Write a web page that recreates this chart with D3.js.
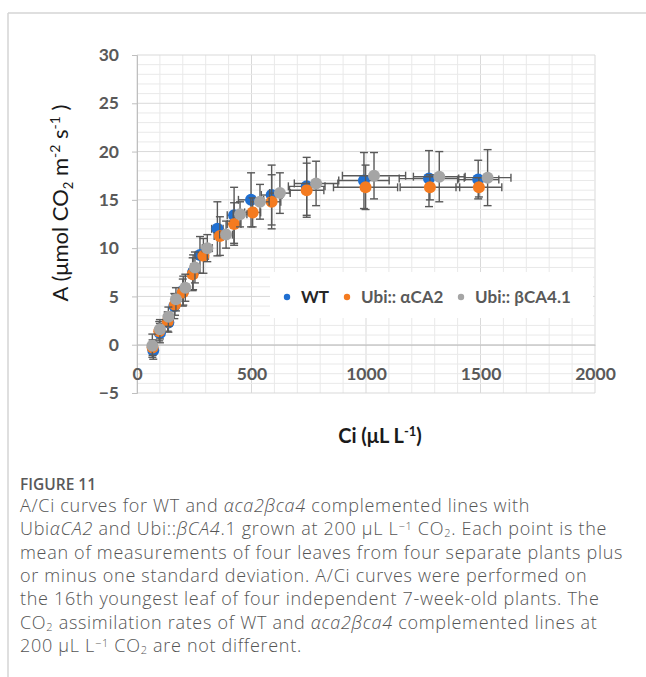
<!DOCTYPE html>
<html>
<head>
<meta charset="utf-8">
<script src="https://cdn.jsdelivr.net/npm/d3@7"></script>
<style>
  body { margin: 0; background: #fff; }
  svg { display: block; }
</style>
</head>
<body>
<svg id="chart"></svg>
<script>
// A/Ci data: mean Ci, mean A, and one SD on each
const series = ["WT", "Ubi:: αCA2", "Ubi:: βCA4.1"];
const colors = ["#1f6fd1", "#f47b20", "#a5a5a5"];

const wtCi = [71, 100, 137, 163, 202, 245, 275, 351, 424, 498, 588, 741, 991, 1275, 1490];
const wtA = [-0.6, 1.2, 2.3, 4.0, 5.6, 7.5, 9.3, 12.0, 13.4, 15.0, 15.5, 16.4, 17.0, 17.2, 17.1];
const wtASd = [0.9, 1.0, 1.0, 1.3, 1.5, 1.8, 1.9, 2.8, 2.9, 2.8, 3.1, 3.0, 2.9, 2.9, 2.0];
const wtCiSd = [8, 10, 12, 14, 16, 18, 20, 25, 30, 55, 45, 80, 110, 130, 90];

const aCi = [68, 97, 134, 166, 200, 243, 290, 362, 424, 505, 588, 741, 998, 1279, 1493];
const aA = [-0.3, 1.4, 2.4, 4.15, 5.4, 7.3, 9.2, 11.25, 12.5, 13.7, 14.8, 16.0, 16.3, 16.3, 16.3];
const aASd = [0.8, 1.0, 1.0, 1.1, 1.4, 1.7, 1.8, 2.0, 2.2, 1.5, 2.8, 2.8, 2.3, 1.3, 1.0];
const aCiSd = [8, 10, 12, 14, 16, 18, 22, 25, 30, 35, 40, 75, 140, 130, 100];

const bCi = [67, 100, 137, 170, 211, 253, 307, 389, 450, 537, 624, 782, 1035, 1320, 1531];
const bA = [-0.1, 1.6, 2.9, 4.7, 5.9, 8.0, 10.0, 11.4, 13.5, 14.8, 15.7, 16.7, 17.5, 17.4, 17.3];
const bASd = [1.2, 1.0, 1.0, 1.2, 1.4, 1.6, 1.4, 1.4, 1.3, 1.8, 2.1, 2.3, 2.4, 2.6, 2.9];
const bCiSd = [8, 10, 12, 14, 16, 18, 22, 28, 30, 40, 45, 95, 138, 113, 102];

const xTicks = [0, 500, 1000, 1500, 2000];
const yTicks = [-5, 0, 5, 10, 15, 20, 25, 30];

const width = 646;
const height = 677;
const plot = { left: 137, right: 595, top: 55, bottom: 393 };

const svg = d3.select("#chart")
    .attr("width", width)
    .attr("height", height);

// frame lines of the page
svg.append("line").attr("x1", 8).attr("x2", width).attr("y1", 13).attr("y2", 13)
    .attr("stroke", "#d4d4d4").attr("stroke-width", 1.5);
svg.append("line").attr("x1", 8).attr("x2", 8).attr("y1", 13).attr("y2", height)
    .attr("stroke", "#d4d4d4").attr("stroke-width", 1.5);

const x = d3.scaleLinear().domain([0, 2000]).range([plot.left, plot.right]);
const y = d3.scaleLinear().domain([-5, 30]).range([plot.bottom, plot.top]);

// grid
const grid = svg.append("g");
grid.selectAll("line.vminor")
    .data(d3.range(0, 2001, 100))
    .enter().append("line")
    .attr("x1", d => x(d)).attr("x2", d => x(d))
    .attr("y1", plot.top).attr("y2", plot.bottom)
    .attr("stroke", d => d % 500 === 0 ? "#d9d9d9" : "#e9e9e9")
    .attr("stroke-width", 1);
grid.selectAll("line.hminor")
    .data(d3.range(-5, 31, 1))
    .enter().append("line")
    .attr("x1", plot.left).attr("x2", plot.right)
    .attr("y1", d => y(d)).attr("y2", d => y(d))
    .attr("stroke", d => d % 5 === 0 ? "#d9d9d9" : "#e9e9e9")
    .attr("stroke-width", 1);

// y axis
const yAxis = svg.append("g")
    .attr("transform", `translate(${plot.left},0)`)
    .call(d3.axisLeft(y).tickValues(yTicks).tickSize(5).tickPadding(13));
yAxis.select(".domain").attr("stroke", "#bfbfbf");
yAxis.selectAll(".tick line").attr("stroke", "#bfbfbf");
yAxis.selectAll("text")
    .style("font-family", "Lato, sans-serif")
    .style("font-weight", "bold")
    .style("font-size", "17.5px")
    .attr("fill", "#595959");

// x axis sits on A = 0
const xAxis = svg.append("g")
    .attr("transform", `translate(0,${y(0)})`)
    .call(d3.axisBottom(x).tickValues(xTicks).tickFormat(d3.format("d")).tickSize(0).tickPadding(23));
xAxis.select(".domain").attr("stroke", "#bfbfbf");
xAxis.selectAll("text")
    .style("font-family", "Lato, sans-serif")
    .style("font-weight", "bold")
    .style("font-size", "17.5px")
    .attr("fill", "#595959");

// legend box (drawn before points, over the grid)
const legend = svg.append("g");
legend.append("rect")
    .attr("x", 270).attr("y", 272)
    .attr("width", 323).attr("height", 46)
    .attr("fill", "#fff");
const legendX = [287, 347, 461];
series.forEach((s, i) => {
    legend.append("circle")
        .attr("cx", legendX[i]).attr("cy", 297).attr("r", 3.2)
        .attr("fill", colors[i]);
    legend.append("text")
        .attr("x", legendX[i] + 14).attr("y", 303)
        .style("font-family", "Lato, sans-serif")
        .style("font-weight", "bold")
        .style("font-size", "17px")
        .attr("fill", i === 0 ? "#262626" : "#595959")
        .text(s);
});

// points with error bars
const allData = [
    [wtCi, wtA, wtASd, wtCiSd],
    [aCi, aA, aASd, aCiSd],
    [bCi, bA, bASd, bCiSd]
];
const cap = 4;
allData.forEach((arr, si) => {
    const pts = arr[0].map((c, i) => ({ ci: c, a: arr[1][i], aSd: arr[2][i], ciSd: arr[3][i] }));
    const g = svg.append("g");
    const eb = g.append("g").attr("stroke", "#595959").attr("stroke-width", 1.4);
    pts.forEach(p => {
        const cx = x(p.ci), cy = y(p.a);
        const y1 = y(p.a + p.aSd), y2 = y(p.a - p.aSd);
        const x1 = x(p.ci - p.ciSd), x2 = x(p.ci + p.ciSd);
        eb.append("line").attr("x1", cx).attr("x2", cx).attr("y1", y1).attr("y2", y2);
        eb.append("line").attr("x1", cx - cap).attr("x2", cx + cap).attr("y1", y1).attr("y2", y1);
        eb.append("line").attr("x1", cx - cap).attr("x2", cx + cap).attr("y1", y2).attr("y2", y2);
        eb.append("line").attr("x1", x1).attr("x2", x2).attr("y1", cy).attr("y2", cy);
        eb.append("line").attr("x1", x1).attr("x2", x1).attr("y1", cy - cap).attr("y2", cy + cap);
        eb.append("line").attr("x1", x2).attr("x2", x2).attr("y1", cy - cap).attr("y2", cy + cap);
    });
    g.selectAll("circle")
        .data(pts)
        .enter().append("circle")
        .attr("cx", d => x(d.ci))
        .attr("cy", d => y(d.a))
        .attr("r", 6)
        .attr("fill", colors[si]);
});

// axis titles
const yTitle = svg.append("text")
    .attr("transform", "translate(68,203) rotate(-90)")
    .attr("text-anchor", "middle")
    .style("font-family", "Lato, sans-serif")
    .style("font-size", "22px")
    .attr("fill", "#1a1a1a");
yTitle.append("tspan").text("A (μmol CO");
yTitle.append("tspan").attr("baseline-shift", "-5px").style("font-size", "13px").text("2");
yTitle.append("tspan").text(" m");
yTitle.append("tspan").attr("baseline-shift", "8px").style("font-size", "14px").text("-2");
yTitle.append("tspan").text(" s");
yTitle.append("tspan").attr("baseline-shift", "8px").style("font-size", "14px").text("-1");
yTitle.append("tspan").text(" )");

const xTitle = svg.append("text")
    .attr("x", 380).attr("y", 443)
    .attr("text-anchor", "middle")
    .style("font-family", "Lato, sans-serif")
    .style("font-weight", "bold")
    .style("font-size", "20px")
    .attr("fill", "#1a1a1a");
xTitle.append("tspan").text("Ci (μL L");
xTitle.append("tspan").attr("baseline-shift", "7px").style("font-size", "13px").text("-1");
xTitle.append("tspan").text(")");

// caption
const capFont = "'Open Sans', sans-serif";
svg.append("text")
    .attr("x", 20).attr("y", 490)
    .style("font-family", capFont)
    .style("font-weight", "600")
    .style("font-size", "15.5px")
    .attr("fill", "#595959")
    .text("FIGURE 11");

const captionLines = [
    [["A/Ci curves for WT and ", ""], ["αca2βca4", "i"], [" complemented lines with", ""]],
    [["Ubi", ""], ["αCA2", "i"], [" and Ubi::", ""], ["βCA4", "i"], [".1 grown at 200 μL L", ""], ["−1", "sup"], [" CO", ""], ["2", "sub"], [". Each point is the", ""]],
    [["mean of measurements of four leaves from four separate plants plus", ""]],
    [["or minus one standard deviation. A/Ci curves were performed on", ""]],
    [["the 16th youngest leaf of four independent 7-week-old plants. The", ""]],
    [["CO", ""], ["2", "sub"], [" assimilation rates of WT and ", ""], ["αca2βca4", "i"], [" complemented lines at", ""]],
    [["200 μL L", ""], ["−1", "sup"], [" CO", ""], ["2", "sub"], [" are not different.", ""]]
];
captionLines.forEach((line, li) => {
    const t = svg.append("text")
        .attr("x", 20).attr("y", 512 + li * 23.3)
        .style("font-family", capFont)
        .style("font-weight", "300")
        .style("font-size", "18px")
        .style("letter-spacing", "0.7px")
        .attr("fill", "#555");
    line.forEach(([s, k]) => {
        const sp = t.append("tspan").text(s);
        if (k === "i") sp.style("font-style", "italic");
        if (k === "sup") sp.attr("baseline-shift", "5px").style("font-size", "11px");
        if (k === "sub") sp.attr("baseline-shift", "-2px").style("font-size", "11px");
    });
});
</script>
</body>
</html>
